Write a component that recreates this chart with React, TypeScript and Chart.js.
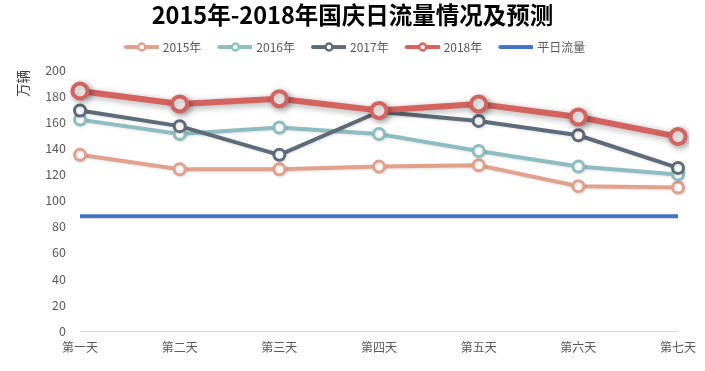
import React, { useEffect, useRef } from "react";
import { Chart, registerables } from "chart.js";

Chart.register(...registerables);

const days = ["第一天", "第二天", "第三天", "第四天", "第五天", "第六天", "第七天"];
const y2015 = [135, 124, 124, 126, 127, 111, 110];
const y2016 = [162, 151, 156, 151, 138, 126, 120];
const y2017 = [169, 157, 135, 168, 161, 150, 125];
const y2018 = [184, 174, 178, 169, 174, 164, 149];
const normalFlow = [88, 88, 88, 88, 88, 88, 88];
const seriesNames = ["2015年", "2016年", "2017年", "2018年", "平日流量"];
const colors = ["#E1A18C", "#8DBDC1", "#5E6B78", "#D4625F", "#4472C4"];

const FONT = "'Noto Sans CJK SC', 'Noto Sans', sans-serif";

function legendImage(color: string, withPoint: boolean): HTMLCanvasElement {
  const c = document.createElement("canvas");
  c.width = 41;
  c.height = 12;
  const ctx = c.getContext("2d")!;
  ctx.strokeStyle = color;
  ctx.lineWidth = 4;
  ctx.lineCap = "round";
  ctx.beginPath();
  ctx.moveTo(8, 6);
  ctx.lineTo(40, 6);
  ctx.stroke();
  if (withPoint) {
    ctx.beginPath();
    ctx.arc(24, 6, 3.5, 0, Math.PI * 2);
    ctx.fillStyle = "#fff";
    ctx.fill();
    ctx.lineWidth = 2.5;
    ctx.stroke();
  }
  return c;
}

const shadowPlugin = {
  id: "shadowPlugin",
  beforeDatasetDraw(chart: any, args: any) {
    const ctx = chart.ctx;
    ctx.save();
    if (args.index === 3) {
      ctx.shadowColor = "rgba(0,0,0,0.35)";
      ctx.shadowBlur = 7;
      ctx.shadowOffsetX = 2;
      ctx.shadowOffsetY = 2;
    } else if (args.index < 3) {
      ctx.shadowColor = "rgba(0,0,0,0.12)";
      ctx.shadowBlur = 3;
      ctx.shadowOffsetX = 1;
      ctx.shadowOffsetY = 1;
    }
  },
  afterDatasetDraw(chart: any) {
    chart.ctx.restore();
  },
};

export default function App() {
  const ref = useRef<HTMLCanvasElement | null>(null);

  useEffect(() => {
    if (!ref.current) return;
    const values = [y2015, y2016, y2017, y2018, normalFlow];
    const orders = [4, 3, 2, 1, 5];
    const datasets = values.map((v, i) => {
      const big = i === 3;
      const flat = i === 4;
      return {
        label: seriesNames[i],
        data: v,
        borderColor: colors[i],
        backgroundColor: "#ffffff",
        borderWidth: big ? 6 : 4,
        pointRadius: flat ? 0 : big ? 7.5 : 5.5,
        pointBorderWidth: big ? 4 : 3,
        pointBackgroundColor: "#ffffff",
        pointBorderColor: colors[i],
        pointHoverRadius: 0,
        tension: 0,
        order: orders[i],
      };
    });
    const images = colors.map((c, i) => legendImage(c, i !== 4));

    const chart = new Chart(ref.current, {
      type: "line",
      data: { labels: days, datasets },
      plugins: [shadowPlugin],
      options: {
        responsive: false,
        animation: false,
        devicePixelRatio: 1,
        layout: { padding: { left: 26, right: 26, bottom: 8, top: 0 } },
        plugins: {
          title: {
            display: true,
            text: "2015年-2018年国庆日流量情况及预测",
            color: "#000",
            font: { family: FONT, size: 23.5, weight: "bold", lineHeight: 1.15 },
            padding: { top: 2, bottom: 0 },
          },
          subtitle: {
            display: true,
            text: "",
            weight: 500,
            font: { size: 7, lineHeight: 1 },
            padding: 0,
          },
          legend: {
            display: true,
            labels: {
              usePointStyle: true,
              pointStyleWidth: 37,
              padding: 12,
              color: "#595959",
              font: { family: FONT, size: 12 },
              generateLabels: (ch: any) =>
                ch.data.datasets.map((d: any, i: number) => ({
                  text: d.label,
                  pointStyle: images[i],
                  fillStyle: colors[i],
                  strokeStyle: colors[i],
                  lineWidth: 0,
                  hidden: false,
                  datasetIndex: i,
                  fontColor: "#595959",
                })),
            },
          },
          tooltip: { enabled: false },
        },
        scales: {
          x: {
            offset: false,
            grid: { display: false, drawTicks: false },
            border: { display: true, color: "#D9D9D9", width: 1 },
            ticks: {
              color: "#595959",
              font: { family: FONT, size: 12 },
              padding: 9,
              maxRotation: 0,
            },
            afterFit: (s: any) => {
              s.height = 32;
            },
          },
          y: {
            min: 0,
            max: 200,
            grid: { display: false, drawTicks: false },
            border: { display: false },
            ticks: {
              stepSize: 20,
              color: "#595959",
              font: { family: FONT, size: 12.5 },
              padding: 14,
            },
            title: {
              display: true,
              text: "万辆",
              align: "end",
              color: "#404040",
              font: { family: FONT, size: 13.5 },
              padding: { top: -11, bottom: 0 },
            },
            afterFit: (s: any) => {
              s.width = 54;
            },
          },
        },
      } as any,
    });
    return () => chart.destroy();
  }, []);

  return (
    <div style={{ position: "absolute", left: 0, top: 0, width: 705, height: 371, background: "#fff" }}>
      <canvas ref={ref} width={705} height={371} style={{ display: "block" }} />
    </div>
  );
}
